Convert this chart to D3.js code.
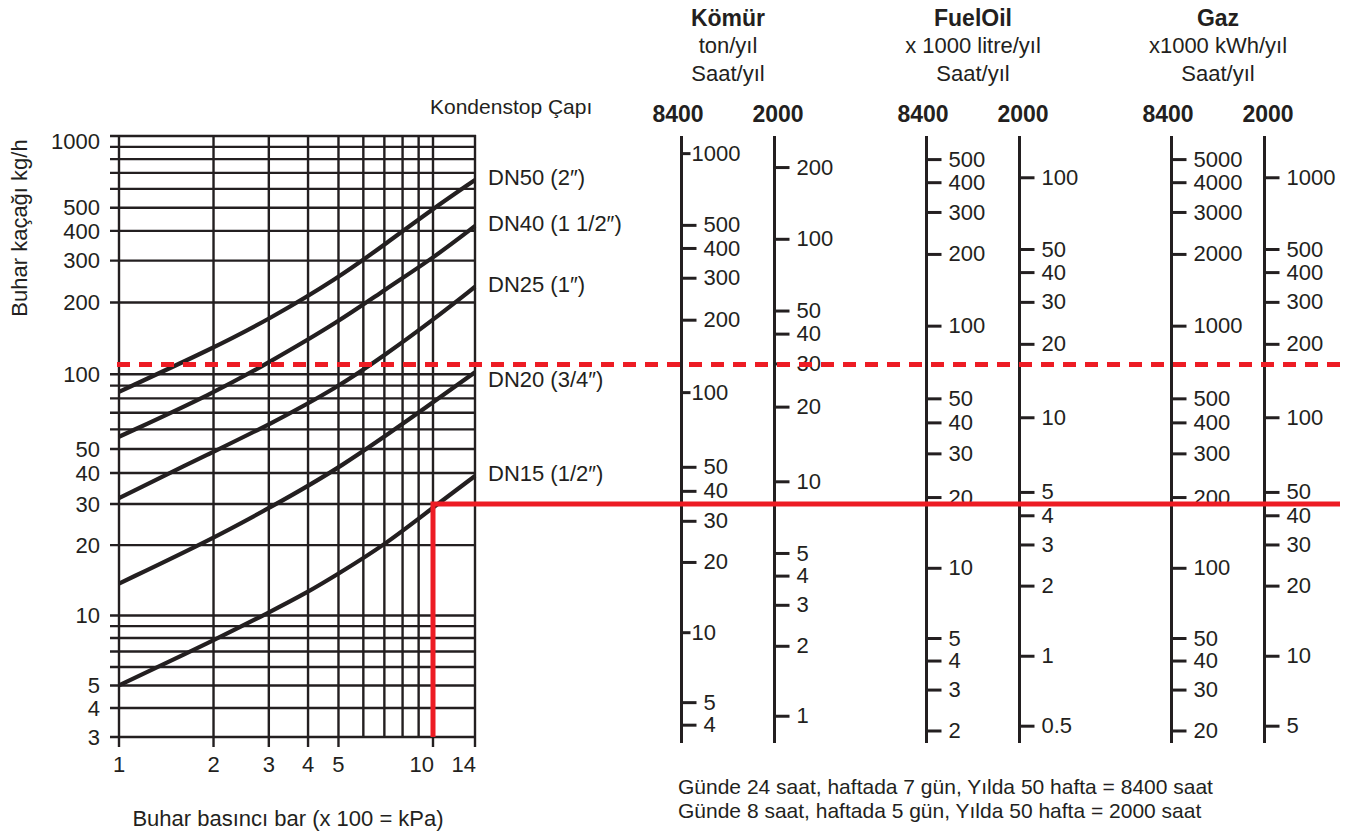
<!DOCTYPE html>
<html>
<head>
<meta charset="utf-8">
<script src="https://cdn.jsdelivr.net/npm/d3@7"></script>
<style>
  body { margin: 0; background: #fff; }
  text { font-family: "Liberation Sans", Arial, sans-serif; fill: #231f20; }
</style>
</head>
<body>
<svg width="1355" height="834"></svg>
<script>
// ---- data ----
const pressureGrid = [1, 2, 3, 4, 5, 6, 7, 8, 9, 10, 14];
const pressureTicks = [1, 2, 3, 4, 5, 10, 14];
const leakGrid = [3, 4, 5, 6, 7, 8, 9, 10, 20, 30, 40, 50, 60, 70, 80, 90,
  100, 200, 300, 400, 500, 600, 700, 800, 900, 1000];
const leakTicks = [3, 4, 5, 10, 20, 30, 40, 50, 100, 200, 300, 400, 500, 1000];

// trap sizes and their curves: [pressure bar, steam loss kg/h]
const trapNames = ["DN50 (2″)", "DN40 (1 1/2″)", "DN25 (1″)", "DN20 (3/4″)", "DN15 (1/2″)"];
const dn50 = [[1, 85], [2, 129], [3, 170], [5, 254], [7, 350], [10, 495], [14, 654]];
const dn40 = [[1, 56], [2, 84], [3, 112], [5, 166], [7, 226], [10, 307], [14, 419]];
const dn25 = [[1, 31.7], [2, 48.8], [3, 62.5], [5, 89], [7, 120], [10, 169], [14, 233]];
const dn20 = [[1, 13.7], [2, 21.4], [3, 28.8], [5, 41.4], [10, 77], [14, 102]];
const dn15 = [[1, 5], [2, 7.8], [3, 10.3], [4, 12.6], [5, 15.1], [7, 20], [10, 29], [14, 38.9]];
const trapCurves = [dn50, dn40, dn25, dn20, dn15];

// example reading: DN15 at 10 bar -> 30 kg/h, plus a 110 kg/h guide
const examplePressure = 10;
const exampleLeak = 30;
const guideLeak = 110;

// fuel scales
const fuelNames = ["Kömür", "FuelOil", "Gaz"];
const fuelUnits = ["ton/yıl", "x 1000 litre/yıl", "x1000 kWh/yıl"];
const hourLabels = ["8400", "2000"];
// units per kg/h of steam loss, for komur8400, komur2000, fuel8400, fuel2000, gaz8400, gaz2000
const unitFactors = [1.18, 0.27, 0.625, 0.149, 6.25, 1.49];
const majorTicks = [
  [1000, 500, 400, 300, 200, 100, 50, 40, 30, 20, 10, 5, 4],
  [200, 100, 50, 40, 30, 20, 10, 5, 4, 3, 2, 1],
  [500, 400, 300, 200, 100, 50, 40, 30, 20, 10, 5, 4, 3, 2],
  [100, 50, 40, 30, 20, 10, 5, 4, 3, 2, 1, 0.5],
  [5000, 4000, 3000, 2000, 1000, 500, 400, 300, 200, 100, 50, 40, 30, 20],
  [1000, 500, 400, 300, 200, 100, 50, 40, 30, 20, 10, 5]
];
const minorTicks = [
  [900, 800, 700, 600, 80, 70, 60, 8, 7, 6],
  [180, 160, 140, 120, 80, 70, 60, 9, 8, 1.6, 1.4, 1.2],
  [600, 90, 80, 70, 60, 25, 9, 8, 7, 6],
  [90, 80, 70, 60, 9, 8, 7, 6, 0.9, 0.8, 0.7, 0.6],
  [6000, 900, 800, 700, 600, 250, 90, 80, 70, 60],
  [900, 800, 700, 600, 90, 80, 70, 60, 9, 8, 7, 6]
];

const footLines = [
  "Günde 24 saat, haftada 7 gün, Yılda 50 hafta = 8400 saat",
  "Günde 8 saat, haftada 5 gün, Yılda 50 hafta = 2000 saat"
];

// ---- drawing ----
const ink = "#231f20";
const red = "#ed1c24";
const font = '"Liberation Sans", Arial, sans-serif';
const svg = d3.select("svg");

// the printed grid is not a perfect log grid, so a few anchors per scale
const x = d3.scaleLog().domain([1, 10, 14]).range([119, 433, 475]);
const y = d3.scaleLog().domain([3, 10, 30, 100, 1000]).range([737, 615.5, 504, 374.3, 136]);

const grid = svg.append("g").attr("stroke", ink).attr("stroke-width", 2.4);
grid.selectAll(".hgrid")
  .data(leakGrid)
  .join("line")
  .attr("class", "hgrid")
  .attr("x1", 110)
  .attr("x2", x(14) + 1)
  .attr("y1", (d) => y(d))
  .attr("y2", (d) => y(d));
grid.selectAll(".vgrid")
  .data(pressureGrid)
  .join("line")
  .attr("class", "vgrid")
  .attr("x1", (d) => x(d))
  .attr("x2", (d) => x(d))
  .attr("y1", y(1000) - 1)
  .attr("y2", (d) => (pressureTicks.includes(d) ? y(3) + 10 : y(3)));

// y labels
svg.append("g")
  .selectAll("text")
  .data(leakTicks)
  .join("text")
  .attr("x", 100)
  .attr("y", (d) => y(d))
  .attr("dy", (d) => (d === 1000 ? "0.6em" : "0.35em"))
  .attr("text-anchor", "end")
  .style("font-size", "22px")
  .text((d) => d);

// x labels
svg.append("g")
  .selectAll("text")
  .data(pressureTicks)
  .join("text")
  .attr("x", (d) => x(d) + (d >= 10 ? 1 : 0))
  .attr("y", 772)
  .attr("text-anchor", (d) => (d >= 10 ? "end" : "middle"))
  .style("font-size", "22px")
  .text((d) => d);

svg.append("text")
  .attr("transform", "translate(27,228) rotate(-90)")
  .attr("text-anchor", "middle")
  .style("font-size", "22px")
  .text("Buhar kaçağı kg/h");

svg.append("text")
  .attr("x", 288)
  .attr("y", 826)
  .attr("text-anchor", "middle")
  .style("font-size", "22px")
  .text("Buhar basıncı bar (x 100 = kPa)");

// trap curves
const line = d3.line()
  .x((d) => x(d[0]))
  .y((d) => y(d[1]))
  .curve(d3.curveBasis);

svg.append("g")
  .selectAll("path")
  .data(trapCurves)
  .join("path")
  .attr("fill", "none")
  .attr("stroke", ink)
  .attr("stroke-width", 4.2)
  .attr("d", line);

// curve names next to the curve ends, kept clear of the dashed guide
const guideY = y(guideLeak);
svg.append("g")
  .selectAll("text")
  .data(trapCurves)
  .join("text")
  .attr("x", 488)
  .attr("y", (d) => {
    const base = y(d[d.length - 1][1]) + 5;
    return base > guideY && base - 18 < guideY ? guideY + 23 : base;
  })
  .style("font-size", "22px")
  .text((d, i) => trapNames[i]);

svg.append("text")
  .attr("x", 430)
  .attr("y", 114)
  .style("font-size", "21px")
  .text("Kondenstop Çapı");

// fuel scales, each one is the steam loss scale times a unit factor
fuelNames.forEach((name, gi) => {
  const cx = 728 + gi * 245;

  svg.append("text")
    .attr("x", cx).attr("y", 26)
    .attr("text-anchor", "middle")
    .style("font-size", "23px").style("font-weight", "bold")
    .text(name);
  svg.append("text")
    .attr("x", cx).attr("y", 53)
    .attr("text-anchor", "middle")
    .style("font-size", "22px")
    .text(fuelUnits[gi]);
  svg.append("text")
    .attr("x", cx).attr("y", 81)
    .attr("text-anchor", "middle")
    .style("font-size", "22px")
    .text("Saat/yıl");

  hourLabels.forEach((h, hi) => {
    const i = gi * 2 + hi;
    const ax = cx + (hi ? 46.5 : -46.5);
    const f = unitFactors[i];
    const s = d3.scaleLog().domain(y.domain().map((v) => v * f)).range(y.range());

    svg.append("text")
      .attr("x", cx + (hi ? 50 : -50)).attr("y", 122)
      .attr("text-anchor", "middle")
      .style("font-size", "23px").style("font-weight", "bold")
      .text(h);

    const g = svg.append("g").attr("transform", `translate(${ax},0)`);
    g.call(d3.axisRight(s).tickValues(minorTicks[i]).tickSize(10).tickSizeOuter(0).tickFormat(() => ""));
    g.call(d3.axisRight(s).tickValues(majorTicks[i]).tickSize(15).tickPadding(7).tickSizeOuter(0).tickFormat((d) => String(d)));
    g.selectAll(".domain").remove();
    g.attr("font-size", 22).attr("font-family", font).attr("color", ink);
    g.selectAll("line").attr("stroke-width", 3);
    g.append("line")
      .attr("y1", 136).attr("y2", 743)
      .attr("stroke", ink).attr("stroke-width", 3);

    if (i === 0) {
      // decade labels sit right on a short tick here
      const decade = g.selectAll(".tick")
        .filter((d) => Math.abs(Math.log10(d) - Math.round(Math.log10(d))) < 1e-9);
      decade.select("line").attr("x2", 9);
      decade.select("text").attr("x", 10);
    }
  });
});

// example reading in red
svg.append("line")
  .attr("x1", 117).attr("x2", 1340)
  .attr("y1", guideY).attr("y2", guideY)
  .attr("stroke", red).attr("stroke-width", 5)
  .attr("stroke-dasharray", "13 9");

svg.append("path")
  .attr("d", `M${x(examplePressure)},${y(3)}V${y(exampleLeak)}H1340`)
  .attr("fill", "none")
  .attr("stroke", red).attr("stroke-width", 5);

svg.append("g")
  .selectAll("text")
  .data(footLines)
  .join("text")
  .attr("x", 678)
  .attr("y", (d, i) => 794 + i * 24)
  .style("font-size", "21px")
  .text((d) => d);
</script>
</body>
</html>
